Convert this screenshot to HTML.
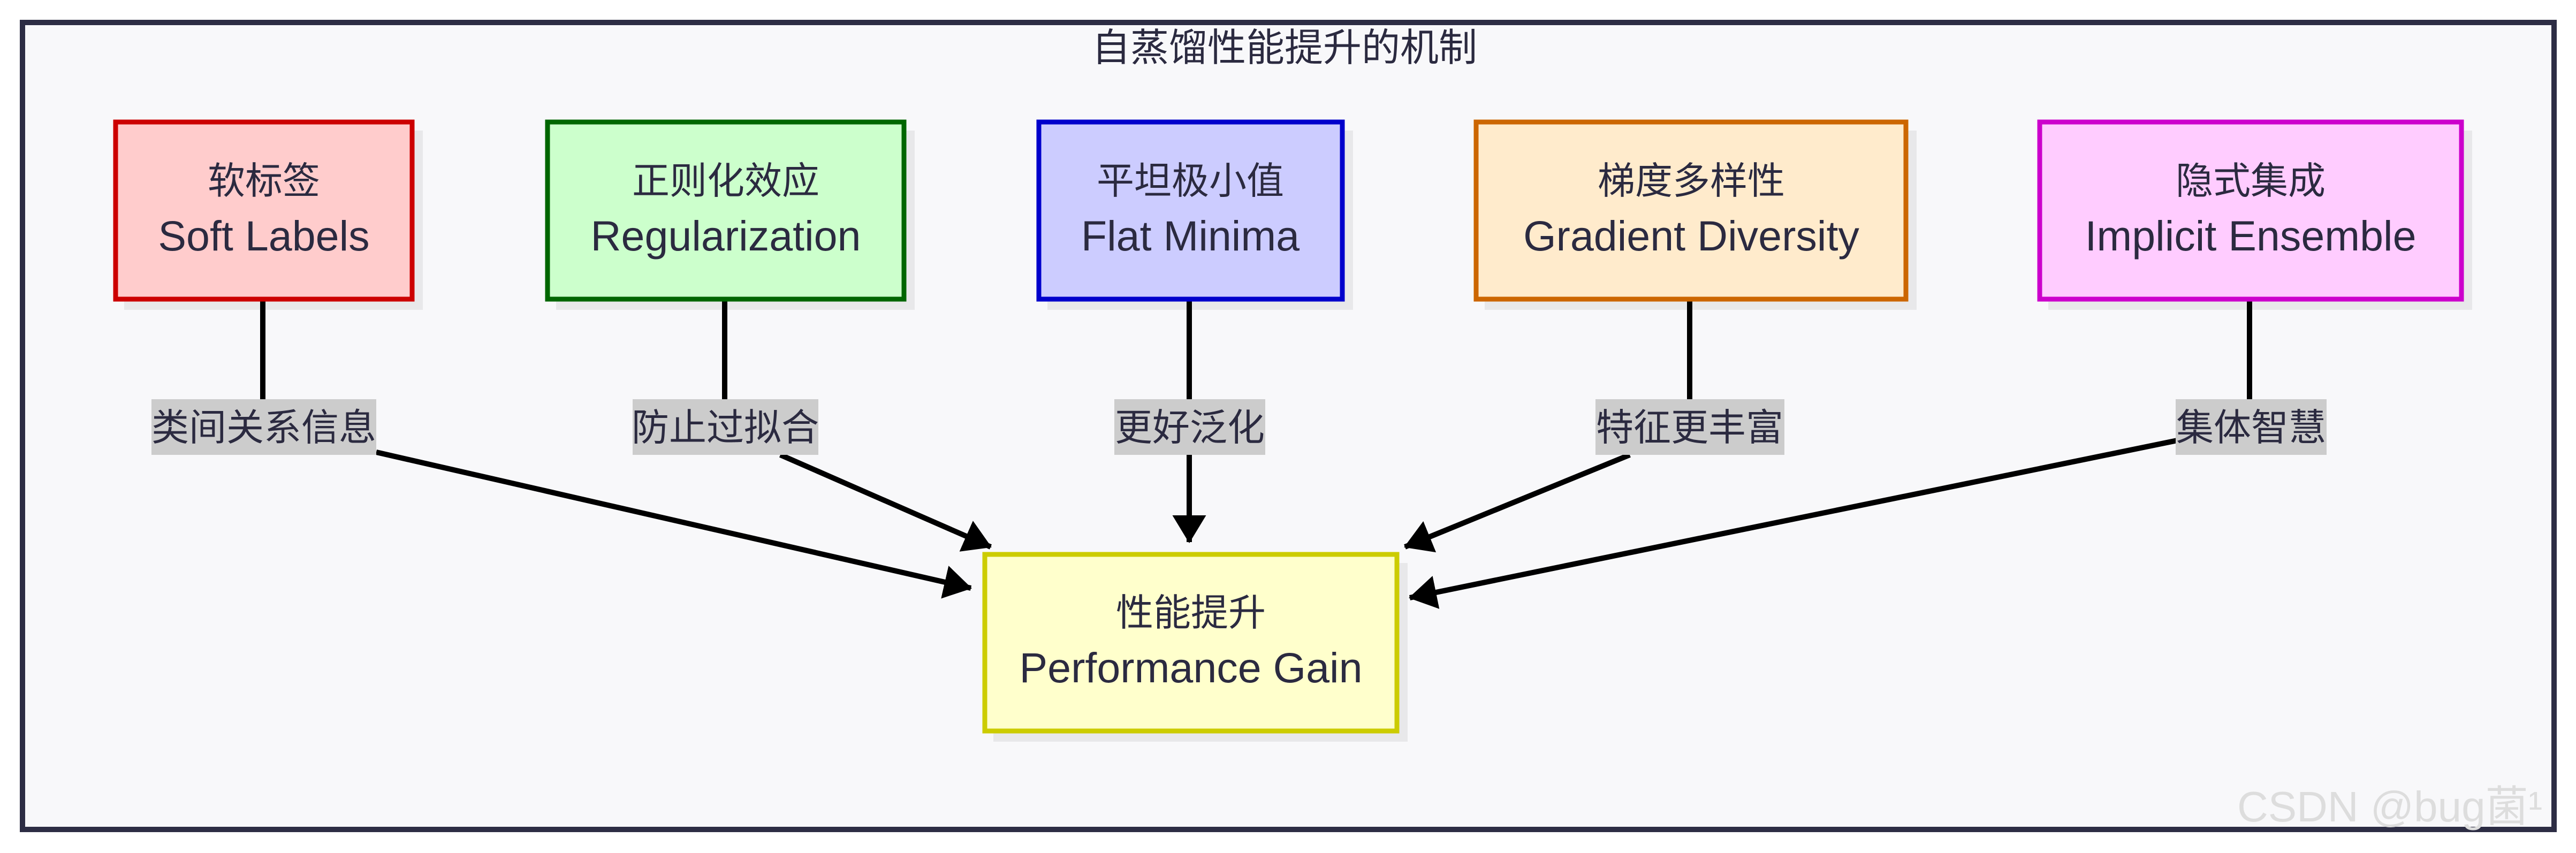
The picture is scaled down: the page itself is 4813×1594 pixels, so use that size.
<!DOCTYPE html>
<html><head><meta charset="utf-8"><style>
html,body{margin:0;padding:0;background:#fff;}
svg{display:block;}
text{font-family:"Liberation Sans","Noto Sans CJK SC",sans-serif;fill:#2b2a40;}
</style></head><body>
<svg width="4813" height="1594" viewBox="0 0 4813 1594" xmlns="http://www.w3.org/2000/svg">
<defs>
<marker id="a" viewBox="0 0 52 63" refX="50" refY="31.5" markerWidth="52" markerHeight="63" markerUnits="userSpaceOnUse" orient="auto">
<path d="M0,0 L52,31.5 L0,63 z" fill="#000"/>
</marker>
</defs>
<rect x="0" y="0" width="4813" height="1594" fill="#fff"/>
<rect x="42" y="42" width="4730" height="1508" fill="#f8f8fa" stroke="#2d2d44" stroke-width="10"/>
<text x="2400" y="114" font-size="72" text-anchor="middle">自蒸馏性能提升的机制</text>

<g fill="#e8e8ea">
<rect x="232" y="244" width="558" height="335"/>
<rect x="1039" y="244" width="670" height="335"/>
<rect x="1957" y="244" width="571" height="335"/>
<rect x="2774" y="244" width="807" height="335"/>
<rect x="3827" y="244" width="792" height="335"/>
<rect x="1856" y="1052" width="774" height="334"/>
</g>

<g stroke="#000" stroke-width="10" fill="none">
<line x1="491" y1="559" x2="491" y2="746"/>
<line x1="1354" y1="559" x2="1354" y2="746"/>
<line x1="2222" y1="559" x2="2222" y2="746"/>
<line x1="3157" y1="559" x2="3157" y2="746"/>
<line x1="4203" y1="559" x2="4203" y2="746"/>
<line x1="703" y1="845" x2="1814" y2="1099" marker-end="url(#a)"/>
<line x1="1458" y1="850" x2="1851" y2="1022" marker-end="url(#a)"/>
<line x1="2222" y1="850" x2="2222" y2="1013" marker-end="url(#a)"/>
<line x1="3045" y1="850" x2="2625" y2="1022" marker-end="url(#a)"/>
<line x1="4068" y1="823" x2="2634" y2="1117" marker-end="url(#a)"/>
</g>

<g stroke-width="9">
<rect x="216" y="228" width="554" height="331" fill="#ffcccc" stroke="#cc0000"/>
<rect x="1023" y="228" width="666" height="331" fill="#ccffcc" stroke="#006600"/>
<rect x="1941" y="228" width="567" height="331" fill="#ccccff" stroke="#0000cc"/>
<rect x="2758" y="228" width="803" height="331" fill="#ffebcc" stroke="#cc6600"/>
<rect x="3811" y="228" width="788" height="331" fill="#ffccff" stroke="#cc00cc"/>
<rect x="1840" y="1036" width="770" height="330" fill="#ffffcc" stroke="#cccc00"/>
</g>

<g text-anchor="middle">
<g font-size="70">
<text x="493" y="362">软标签</text>
<text x="1356" y="362">正则化效应</text>
<text x="2224" y="362">平坦极小值</text>
<text x="3160" y="362">梯度多样性</text>
<text x="4205" y="362">隐式集成</text>
<text x="2225" y="1169">性能提升</text>
</g>
<g font-size="79">
<text x="493" y="468">Soft Labels</text>
<text x="1356" y="468">Regularization</text>
<text x="2224" y="468">Flat Minima</text>
<text x="3160" y="468">Gradient Diversity</text>
<text x="4205" y="468">Implicit Ensemble</text>
<text x="2225" y="1275">Performance Gain</text>
</g>
</g>

<g fill="#cccccc">
<rect x="283" y="746" width="420" height="104"/>
<rect x="1182" y="746" width="347" height="104"/>
<rect x="2082" y="746" width="282" height="104"/>
<rect x="2981" y="746" width="353" height="104"/>
<rect x="4065" y="746" width="282" height="104"/>
</g>
<g font-size="70" text-anchor="middle">
<text x="493" y="823">类间关系信息</text>
<text x="1355" y="823">防止过拟合</text>
<text x="2223" y="823">更好泛化</text>
<text x="3157" y="823">特征更丰富</text>
<text x="4206" y="823">集体智慧</text>
</g>

<text x="4180" y="1535" font-size="80" style="fill:#dddddd">CSDN @bug菌¹</text>
</svg>
</body></html>
